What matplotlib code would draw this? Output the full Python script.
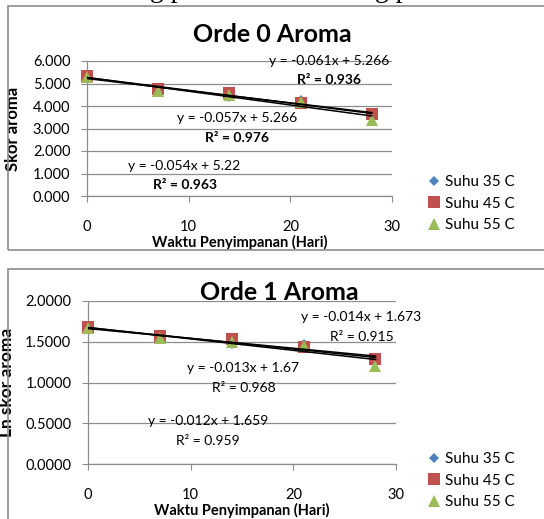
import matplotlib
matplotlib.use("Agg")
import matplotlib.pyplot as plt
from matplotlib.patches import Rectangle
import numpy as np

plt.rcParams['font.family'] = ['Lato', 'DejaVu Sans']

days = [0, 7, 14, 21, 28]
series_names = ["Suhu 35 C", "Suhu 45 C", "Suhu 55 C"]

# Orde 0: skor aroma
orde0_35 = [5.30, 4.70, 4.38, 4.26, 3.60]
orde0_45 = [5.32, 4.75, 4.60, 4.15, 3.65]
orde0_55 = [5.28, 4.65, 4.50, 4.20, 3.40]

# Orde 1: ln skor aroma
orde1_35 = [1.668, 1.550, 1.465, 1.470, 1.280]
orde1_45 = [1.680, 1.570, 1.530, 1.430, 1.290]
orde1_55 = [1.665, 1.540, 1.500, 1.450, 1.200]

# trendline equations (slope, intercept, r2)
orde0_slope = [-0.061, -0.057, -0.054]
orde0_icpt = ["5.266", "5.266", "5.22"]
orde0_r2 = ["0.936", "0.976", "0.963"]
orde1_slope = [-0.014, -0.013, -0.012]
orde1_icpt = ["1.673", "1.67", "1.659"]
orde1_r2 = ["0.915", "0.968", "0.959"]

colors = ["#4F81BD", "#C0504D", "#9BBB59"]
markers = ["D", "s", "^"]
msizes = [5, 8.5, 9]

W, H = 544, 519
fig = plt.figure(figsize=(W / 100, H / 100), dpi=100)

def fx(px):
    return px / W

def fy(py):
    return 1 - py / H

# chart boxes
fig.patches.append(Rectangle((fx(8), fy(250)), 1.0, fy(6) - fy(250), transform=fig.transFigure,
                             fill=False, edgecolor="#8c8c8c", lw=1.2))
fig.patches.append(Rectangle((fx(8), fy(530)), 1.0, fy(269) - fy(530), transform=fig.transFigure,
                             fill=False, edgecolor="#8c8c8c", lw=1.2))

# partial document text above (only descenders visible)
fig.text(fx(160), fy(-3), "ng p", family="Liberation Serif", fontsize=20, ha="center", va="baseline")
fig.text(fx(385), fy(-3), "ng p", family="Liberation Serif", fontsize=20, ha="center", va="baseline")


def make_axes(rect, data, slopes, icpts, r2s, ylim, ystep, yfmt, title, ylabel,
              eq_pos, r2_pos, r2_bold, title_xy, ylabel_x, leg_y, ylabel_size):
    ax = fig.add_axes(rect)
    ax.set_xlim(0, 30)
    ax.set_ylim(*ylim)
    ax.set_yticks(np.arange(ylim[0], ylim[1] + ystep / 2, ystep))
    ax.set_xticks([0, 10, 20, 30])
    ax.set_yticklabels([yfmt.format(v) for v in ax.get_yticks()])
    ax.grid(axis="y", color="#8c8c8c", lw=0.9)
    ax.set_axisbelow(True)
    for s in ["top", "right"]:
        ax.spines[s].set_visible(False)
    for s in ["left", "bottom"]:
        ax.spines[s].set_color("#8c8c8c")
        ax.spines[s].set_linewidth(0.9)
    ax.tick_params(axis="x", direction="out", length=4, color="#8c8c8c", pad=13, labelsize=10.5)
    ax.tick_params(axis="y", direction="out", length=4, color="#8c8c8c", pad=8, labelsize=10.5)
    handles = []
    for i, ys in enumerate(data):
        h, = ax.plot(days, ys, linestyle="none", marker=markers[i], color=colors[i],
                     markersize=msizes[i], markeredgewidth=0, zorder=3 + i, clip_on=False)
        handles.append(h)
    xs = np.array([days[0], days[-1]])
    for m, b in zip(slopes, icpts):
        ax.plot(xs, m * xs + float(b), color="black", lw=1.1, zorder=7)
    for i in range(3):
        eq = "y = -{:.3f}x + {}".format(abs(slopes[i]), icpts[i])
        ax.text(eq_pos[i][0], eq_pos[i][1], eq, ha="center", va="center", fontsize=10, zorder=8)
        ax.text(r2_pos[i][0], r2_pos[i][1], "R² = " + r2s[i], ha="center", va="center",
                fontsize=10, fontweight="bold" if r2_bold else "normal", zorder=8)
    fig.text(fx(title_xy[0]), fy(title_xy[1]), title, ha="center", va="center",
             fontsize=18, fontweight="bold")
    ax.set_xlabel("Waktu Penyimpanan (Hari)", fontsize=10.5, fontweight="bold", labelpad=1)
    ax.set_ylabel(ylabel, fontsize=ylabel_size, fontweight="bold")
    ax.yaxis.set_label_coords((fx(ylabel_x) - rect[0]) / rect[2], 0.5)
    fig.legend(handles, series_names, loc="upper left",
               bbox_to_anchor=(fx(428), fy(leg_y)), frameon=False, fontsize=11,
               handlelength=0.8, handletextpad=0.3, labelspacing=0.5, borderpad=0,
               borderaxespad=0)
    return ax


make_axes([fx(87), fy(196), fx(392) - fx(87), fy(61) - fy(196)],
          [orde0_35, orde0_45, orde0_55], orde0_slope, orde0_icpt, orde0_r2,
          (0, 6), 1, "{:.3f}", "Orde 0 Aroma", "Skor aroma",
          eq_pos=[(23.8, 6.0), (14.8, 3.47), (9.6, 1.33)],
          r2_pos=[(23.8, 5.16), (14.8, 2.58), (9.6, 0.49)],
          r2_bold=True, title_xy=(272, 35), ylabel_x=21, leg_y=175, ylabel_size=12)

make_axes([fx(88), fy(464.3), fx(396) - fx(88), fy(300.7) - fy(464.3)],
          [orde1_35, orde1_45, orde1_55], orde1_slope, orde1_icpt, orde1_r2,
          (0, 2), 0.5, "{:.4f}", "Orde 1 Aroma", "Ln skor aroma",
          eq_pos=[(26.6, 1.805), (15.1, 1.174), (11.7, 0.529)],
          r2_pos=[(26.7, 1.56), (15.2, 0.937), (11.7, 0.285)],
          r2_bold=False, title_xy=(279, 292), ylabel_x=15, leg_y=452, ylabel_size=12.5)

fig.savefig("out.png", dpi=100)
